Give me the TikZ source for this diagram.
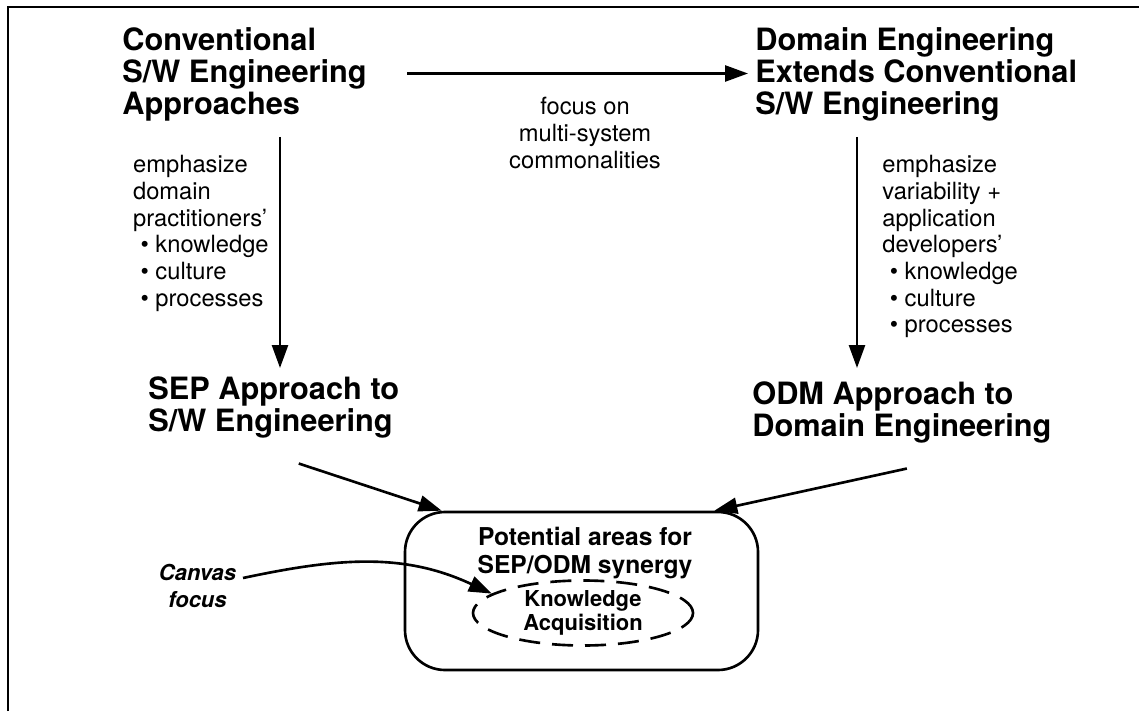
\documentclass[tikz,border=0pt]{standalone}
\usepackage{fontspec}
\setmainfont{TeX Gyre Heros}
\usepackage{tikz}
\usetikzlibrary{arrows.meta,shapes.geometric,positioning}

\begin{document}
\begin{tikzpicture}[
    arr/.style={-{Triangle[length=0.46cm,width=0.32cm]}, line width=1.5pt},
    big/.style={inner sep=0pt, align=left, font=\fontsize{17.5}{18.4}\selectfont\bfseries},
    lbl/.style={inner sep=0pt, align=left, font=\fontsize{13.5}{15.2}\selectfont},
  ]
    \useasboundingbox (0,0) rectangle (22.78,14.22);
    \draw[line width=1pt] (0.16,0) -- (0.16,14.08) -- (22.78,14.08);
    % top row
    \node[big, anchor=north west] (conv) at (2.44,13.68) {Conventional\\S/W Engineering\\Approaches};
    \node[big, anchor=north west] (dom) at (15.1,13.68) {Domain Engineering\\Extends Conventional\\S/W Engineering};
    \draw[arr] ([xshift=0.8cm,yshift=0.02cm]conv.east) -- ([xshift=-0.14cm,yshift=0.02cm]dom.west);
    \node[lbl, align=center] (focus) at (11.7,11.56) {focus on\\multi-system\\commonalities};
    % second row
    \node[big, anchor=north west] (sep) at (2.96,6.7) {SEP Approach to\\S/W Engineering};
    \node[big, anchor=north west] (odm) at (15.04,6.6) {ODM Approach to\\Domain Engineering};
    \coordinate (lx) at (5.6,0);
    \coordinate (rx) at (17.14,0);
    \draw[arr] ([yshift=-0.3cm]conv.south -| lx) -- ([yshift=0.16cm]sep.north -| lx);
    \draw[arr] ([yshift=-0.3cm]dom.south -| rx) -- ([yshift=0.16cm]sep.north -| rx);
    \node[lbl, anchor=north east] (lleft) at (5.38,11.12) {emphasize\\domain\\practitioners'\\
      \hspace{0.15cm}\textbullet\ knowledge\\\hspace{0.15cm}\textbullet\ culture\\\hspace{0.15cm}\textbullet\ processes};
    \node[lbl, anchor=north west] (lright) at (17.64,11.12) {emphasize\\variability +\\application\\developers'\\
      \hspace{0.15cm}\textbullet\ knowledge\\\hspace{0.15cm}\textbullet\ culture\\\hspace{0.15cm}\textbullet\ processes};
    % synergy box
    \node[draw, line width=1.5pt, rounded corners=0.8cm, minimum width=7.06cm, minimum height=3.16cm] (box) at (11.63,2.4) {};
    \node[big, align=center, font=\fontsize{14}{16.2}\selectfont\bfseries] (pot) at (11.7,3.16) {Potential areas for\\SEP/ODM synergy};
    \node[ellipse, draw, dash pattern=on 0.42cm off 0.24cm, line width=1.5pt, minimum width=4.4cm, minimum height=1.3cm,
      align=center, inner sep=0pt, font=\fontsize{12.5}{13.8}\selectfont\bfseries] (ka) at (11.66,1.96) {Knowledge\\Acquisition};
    \draw[arr] ([xshift=0.5cm,yshift=-0.5cm]sep.south) -- ([xshift=0.76cm]box.north west);
    \draw[arr] ([xshift=0.1cm,yshift=-0.5cm]odm.south) -- ([xshift=-0.9cm]box.north east);
    % canvas
    \node[inner sep=0pt, align=center, font=\fontsize{12.5}{15.4}\selectfont\bfseries\itshape] (canvas) at (3.95,2.5) {Canvas\\focus};
    \coordinate (cstart) at (4.86,2.66);
    \draw[arr] (cstart) to[out=12, in=155] (ka.168);
\end{tikzpicture}
\end{document}
